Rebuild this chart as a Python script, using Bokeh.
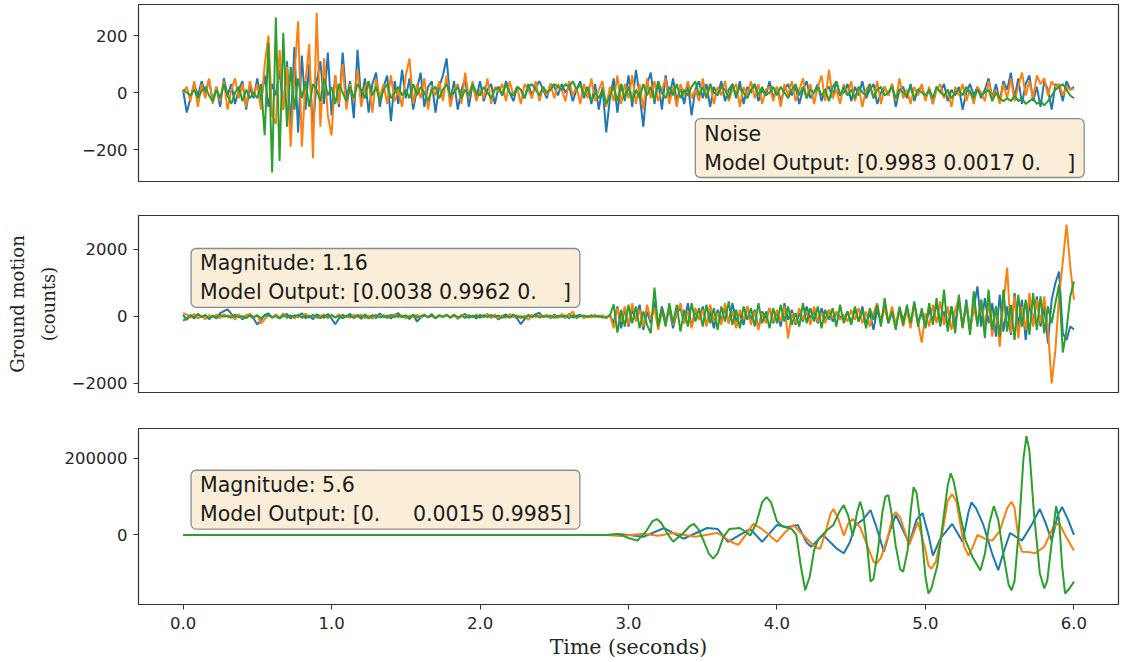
import numpy as np
from bokeh.plotting import figure
from bokeh.models import Label, FixedTicker, Range1d
from bokeh.layouts import column
from bokeh.embed import file_html
from bokeh.resources import INLINE

# ---------------- data ----------------
DT = 0.025  # sampling step (seconds) of the two upper panels

# Panel 1: noise sample (counts)
noise_blue = [
    10, -70, -20, 30, -10, 40, 0, 45, -30, 20, -50, 50, -10, 30, -40, 10, 40, -60, 20, -20,
    50, -30, 60, -50, 30, -10, 80, -60, 110, -120, 160, -140, 130, -60, 100, -130, 40, 110, -40, 140,
    -80, 60, -50, 140, -20, 40, -90, 150, -30, 50, -70, 30, 70, -50, 20, 60, -100, 40, -40, 80,
    -20, 50, -60, 10, 70, -50, 20, 40, -70, 20, 60, 120, -30, 40, -60, 10, 50, -50, 30, -20,
    40, -30, 10, 30, -40, 20, -10, 40, 0, -30, 20, 10, -20, 30, -10, 20, 40, 10, -20, 30,
    20, -10, 30, 0, 20, -30, 10, 40, -20, 20, -40, 30, -60, 20, -140, -20, 50, -70, 30, -30,
    60, -50, 80, -10, -120, 30, 70, -40, 40, -60, 60, -20, 50, -30, 20, -40, 30, -80, 10, 40,
    -20, 30, -50, 20, -10, 40, -30, 10, 30, -20, 40, -40, 20, 0, 30, -30, 10, -10, 40, -20,
    20, -30, 10, 30, -10, 20, -40, 10, 40, -20, 0, 30, -30, 10, 20, -20, 40, -10, 0, 30,
    -30, 20, -10, 40, -20, 10, 30, -40, 0, 20, -10, 30, -50, 10, 20, -20, 30, -30, 10, 20,
    -20, 10, -40, 20, 0, 30, -30, 10, -10, 20, -60, 0, 30, -10, 20, -20, 10, 50, -20, 30,
    -30, 40, 10, 70, -20, 50, -40, 30, 60, -30, 20, -50, 40, 10, -60, 30, 20, -30, 40, 10,
    20]
noise_orange = [
    0, 20, -30, 40, -50, 30, -20, 50, -40, 20, -30, 40, -60, 10, 50, -20, 30, -50, 40, -10,
    30, -60, 100, 200, -80, -110, 150, -60, 90, -190, 60, 250, -190, 40, 170, -230, 280, -120, 120, -80,
    -150, 60, -40, 100, -60, 30, -30, 80, -50, 20, 40, -70, 50, -20, 30, -40, 60, -30, 10, -50,
    60, 120, -40, 30, -20, 50, -60, 20, -10, 40, -30, 60, -50, 10, 30, -40, 70, -20, 40, -30,
    10, -20, 50, -40, 20, 0, 30, -30, 40, -10, 20, -40, 30, 10, -20, 40, -30, 20, -10, 30,
    -20, 30, 10, -30, 40, -10, 20, -40, 30, -20, 50, -30, 10, 40, -50, 20, -30, 60, -40, 30,
    -20, 60, -40, 30, -60, 50, -20, 40, -30, 10, 50, -40, 20, -50, 30, -10, 40, -20, 10, -30,
    50, -20, 30, -40, 20, -10, 40, -30, 10, 30, -50, 20, -10, 40, -20, 30, -40, 10, 20, -30,
    20, -50, 30, -10, 40, -30, 10, 50, -20, 30, -40, 20, 60, -30, 80, -20, 10, -40, 30, -10,
    40, -30, 20, -50, 10, 30, -20, 40, -40, 20, -10, 30, -30, 50, -20, 10, -40, 20, -10, 30,
    -30, 20, -40, 10, 30, -20, 10, -50, 20, -10, 30, -30, 10, -40, 20, 0, -30, 40, -20, 10,
    -40, 30, -20, 50, -30, 20, 70, -10, 40, -20, 60, 30, 50, -10, 40, 20, 30, -10, 20, 10,
    15]
noise_green = [
    10, 0, -10, 10, -20, 5, 20, -10, -30, 10, -20, 30, -10, -40, 0, 20, -30, 10, -20, 0,
    -20, 30, -150, 175, -280, 263, -240, 210, -120, 90, -60, 50, -20, 40, -50, 30, 10, -30, 50, -10,
    20, -40, 30, 0, -30, 20, -20, 30, 10, -20, 40, -10, 20, -30, 10, 30, -20, 0, 20, -10,
    10, -20, 30, -10, 20, 0, -30, 10, 20, -20, 10, 30, -10, 0, 20, -20, 10, -10, 30, 0,
    -10, 20, 0, -20, 10, 20, -10, 30, 0, -10, 20, 10, -20, 20, 30, 10, -10, 20, 0, 10,
    30, 20, 10, 30, 20, 40, 10, 30, -10, 20, -30, 0, -20, 10, -40, -10, 20, -30, 30, -20,
    20, -30, 10, -20, 30, -10, 20, -30, 40, 0, -20, 20, -10, 30, -20, 10, -10, 20, 40, -10,
    20, -20, 30, 0, -10, 20, 10, -20, 30, -10, 20, 0, -20, 10, 30, -10, 20, -10, 0, 20,
    -10, 20, 0, -20, 10, 30, -10, 20, -20, 10, 0, 20, -10, 10, -30, 20, 40, -10, 20, -10,
    10, -20, 20, 0, -10, 30, -20, 10, 20, -10, 0, 20, -20, 10, 0, -10, 20, -20, 10, 0,
    -10, 10, -20, 20, 0, -10, 10, -20, 0, 10, -10, 20, 0, -20, 10, -10, 0, 10, -30, 0,
    -20, -30, -20, -30, -10, -30, -20, -40, -30, -20, -40, -30, -45, -30, -10, 10, 20, 30, 10, -10,
    -20]

# Panel 2: magnitude 1.16 event (counts)
small_blue = [
    50, -100, 40, -60, 80, -20, 40, -80, 30, -60, 100, 160, 210, 80, -40, 60, -90, 40, 20, -60,
    -240, -100, 50, 90, -30, 60, -50, 20, 80, -60, 40, -20, 100, -50, 30, -80, 60, 20, -40, 80,
    -60, -230, -60, 50, -20, 80, -40, 30, -70, 60, -10, 40, -50, 90, -20, 30, -60, 50, 100, -30,
    40, -80, 60, -150, -40, 30, -20, 70, -50, 40, -10, 60, -30, 50, -70, 20, 80, -40, 30, -60,
    50, -20, 70, -40, 30, -90, 20, 60, -30, 40, -60, -230, -80, 50, -20, 70, 110, -30, 40, -50,
    60, -20, 30, -40, 80, -30, 20, 50, -40, 10, -20, 30, -10, 20, -30, 40, -200, 300, -350, 250,
    -300, 200, -100, 350, -400, 150, -200, 450, -250, 300, -150, 200, -350, 100, 250, -200, 400, -300, 150, -100,
    300, -250, 150, -350, 200, -100, 250, -200, 400, -150, 100, -250, 300, -100, 200, -350, 150, -50, 250, -200,
    150, -300, 400, -100, 200, -250, 100, -150, 300, -50, 150, -200, 250, -100, 200, -150, 100, 0, -100, 150,
    -200, 250, -150, 300, -250, 100, -400, 200, -150, 350, -200, 150, -300, 250, -100, 200, -250, 350, -150, 100,
    -300, 200, -150, 400, -250, 150, -350, 300, -200, 450, -300, 500, -400, 250, 900, -300, 550, -200, 400, -600,
    650, -450, 300, -550, 700, -300, 500, -700, 400, -250, 600, -300, 300, -800, 500, 1000, 1340, -500, -700, -300,
    -390]
small_orange = [
    100, 60, -40, 80, -60, 30, -80, 40, -30, 60, -50, 70, -20, 40, -90, 60, -40, 30, 80, -30,
    50, -210, -80, 40, -30, 60, -40, 90, -50, 30, -60, 40, -20, 80, -30, 50, -40, 20, 60, -50,
    40, -30, 70, -60, 20, -40, 50, -20, 60, -50, 30, -70, 40, -10, 50, -40, 20, 60, -30, 40,
    -60, 30, -20, 50, -40, 70, -30, 20, -50, 40, -10, 60, -40, 30, -60, 50, -20, 40, -30, 60,
    -40, 20, 50, -30, 60, -50, 10, -40, 70, -20, 40, -60, 30, -100, 50, -20, 40, -30, 60, -40,
    30, -50, 80, -20, 40, 150, -60, 30, -40, 20, -30, 50, -20, 40, -60, 60, -350, 250, -150, 300,
    -250, 400, -150, 200, -300, 350, -100, 250, -400, 150, -200, 300, -250, 100, 400, -200, 150, -350, 250, -100,
    200, -300, 350, -150, 100, -250, 400, -200, 150, -350, 200, -100, 300, -250, 150, -400, 100, -200, 250, -150,
    200, -150, 300, -650, 100, -200, 250, -100, 150, -250, 300, -150, 100, -200, 200, -50, 150, -100, 50, -150,
    200, -100, 250, -200, 150, -300, 100, 400, -200, 250, -150, 300, -250, 150, -300, 200, -350, 400, -200, -780,
    100, -300, 350, -200, 450, -250, 300, -400, 200, 550, -350, 400, -450, 300, -200, 500, -300, 400, -600, 300,
    -900, 400, 1460, -500, 600, -650, 300, -400, 700, -300, 500, -200, 600, -400, -2000, -1000, 600, 1640, 2745, 1500,
    500]
small_green = [
    -120, -60, 40, -30, 60, -20, 40, -50, 20, -30, 50, -10, 30, -40, 60, -20, 10, -50, 40, -20,
    30, -40, 20, 50, -30, 10, -60, 40, -20, 30, -10, 60, -40, 20, -30, 40, 0, -50, 30, -10,
    40, -30, 20, -50, 30, 10, -40, 50, -20, 30, -60, 20, 40, -30, 10, -40, 50, -20, 30, -10,
    20, -40, 50, -30, 10, 40, -20, 30, -50, 20, -10, 40, -30, 50, -20, 10, -40, 30, -10, 20,
    -30, 40, -20, 50, -10, 30, -40, 20, -30, 60, -20, 10, -50, 30, -10, 40, -30, 20, -10, 30,
    -40, 20, -10, 30, -50, 40, -20, 10, 30, -20, 40, -10, 20, -30, -20, 30, 360, -480, 200, -300,
    350, -200, 300, -350, 150, -250, -500, 865, -300, 250, -300, 400, -200, 350, -450, 200, -300, 400, -150, 250,
    -300, 350, -200, 250, -400, 300, -150, 450, -250, 200, -350, 300, -100, 250, -300, 400, -200, 150, -350, 250,
    -200, 350, -150, 300, -250, 100, -300, 400, -200, 250, -150, 300, -350, 200, -100, 250, -300, 350, -200, 150,
    -250, 300, -150, 200, -350, 250, -100, 350, -300, 550, -200, 150, -400, 300, -250, 350, -200, 450, -300, 250,
    -350, 400, -250, 550, -300, 800, -450, 300, -500, 650, -350, 400, -550, 750, -300, 500, -650, 800, -400, 300,
    -600, 800, -450, 350, -700, 650, -300, 500, -550, 700, -400, 600, -500, 300, -200, 400, 955, -1075, -400, 600,
    1045]

# Panel 3: magnitude 5.6 event, (time s, counts)
big_blue = [
    (0.0, 0), (2.85, 0), (2.95, 2000), (3.1, -5000), (3.24, 18000), (3.37, -10000), (3.53, 18000),
    (3.60, 15600), (3.67, -18000), (3.75, 0), (3.82, 15000), (3.90, -18000), (4.0, 26000),
    (4.07, 20000), (4.14, 26000), (4.20, -20000), (4.23, -31000), (4.31, 0), (4.40, -35000),
    (4.45, -48000), (4.49, -20000), (4.53, 26000), (4.58, 40000), (4.63, 65000), (4.67, 20000),
    (4.72, -44000), (4.76, 10000), (4.80, 52000), (4.84, 20000), (4.89, -23000), (4.94, 40000),
    (4.98, 57000), (5.02, 0), (5.05, -54000), (5.10, -10000), (5.18, 28500), (5.25, -18000),
    (5.29, 60000), (5.31, 85000), (5.34, 70000), (5.39, 26000), (5.45, -50000), (5.49, -92000),
    (5.53, -40000), (5.57, 5000), (5.65, -15000), (5.72, 30000), (5.77, 67500), (5.81, 30000),
    (5.85, -15000), (5.89, 50000), (5.92, 73000), (5.96, 40000), (6.0, 0)]
big_orange = [
    (0.0, 0), (2.85, 0), (2.95, -3000), (3.1, 3000), (3.2, -2000), (3.3, 5000), (3.45, -5000),
    (3.6, 5000), (3.70, -20000), (3.74, -26000), (3.79, 0), (3.84, 28500), (3.90, 15000),
    (4.0, -18000), (4.05, 5000), (4.11, 26000), (4.20, -10000), (4.26, -33000), (4.29, -36400),
    (4.33, 10000), (4.36, 55000), (4.38, 67500), (4.41, 45000), (4.45, -1700), (4.48, 30000),
    (4.51, 41500), (4.56, 20000), (4.62, -40000), (4.65, -70000), (4.67, -75000), (4.70, -60000),
    (4.75, 0), (4.78, 50000), (4.80, 59700), (4.83, 45000), (4.89, -26000), (4.95, 33800),
    (5.00, -40000), (5.02, -80000), (5.04, -88300), (5.07, -70000), (5.12, 20000), (5.15, 90000),
    (5.18, 106500), (5.21, 85000), (5.26, -30000), (5.29, -53700), (5.32, -30000), (5.35, 0),
    (5.40, -10000), (5.45, -15000), (5.50, 10000), (5.55, 70000), (5.58, 86600), (5.60, 70000),
    (5.63, -20000), (5.65, -44000), (5.70, -45000), (5.74, -48000), (5.80, -31000), (5.86, 20000),
    (5.90, 31000), (5.94, 0), (6.0, -41000)]
big_green = [
    (0.0, 0), (2.85, 0), (2.93, 2600), (3.00, -8000), (3.06, -15000), (3.12, 10000), (3.16, 35000),
    (3.19, 41500), (3.22, 32000), (3.26, 5000), (3.30, -18000), (3.34, -5000), (3.37, 5000),
    (3.41, 22000), (3.44, 28500), (3.47, 15000), (3.50, -10000), (3.54, -48000), (3.57, -62000),
    (3.60, -48000), (3.64, -5000), (3.68, 15600), (3.75, 18000), (3.80, 5000), (3.82, -1700),
    (3.86, 30000), (3.90, 85000), (3.93, 98700), (3.96, 85000), (4.00, 35000), (4.04, 22000),
    (4.10, 15000), (4.13, 0), (4.16, -80000), (4.19, -144600), (4.22, -110000), (4.25, -40000),
    (4.28, -10400), (4.33, 10000), (4.38, 26000), (4.42, 60000), (4.45, 78000), (4.48, 50000),
    (4.51, -3000), (4.54, 60000), (4.56, 86600), (4.58, 60000), (4.61, -40000), (4.63, -122000),
    (4.65, -115000), (4.68, -40000), (4.71, 60000), (4.73, 100000), (4.75, 104000), (4.77, 60000),
    (4.80, -30000), (4.83, -90000), (4.85, -96000), (4.88, -40000), (4.90, 60000), (4.92, 124600),
    (4.94, 110000), (4.97, 20000), (5.00, -110000), (5.02, -153000), (5.04, -140000),
    (5.08, -80000), (5.12, 40000), (5.15, 130000), (5.17, 161000), (5.19, 140000), (5.23, 60000),
    (5.27, -15000), (5.32, -60000), (5.37, -92700), (5.40, -50000), (5.43, 30000), (5.46, 75000),
    (5.49, 40000), (5.52, -40000), (5.56, -130000), (5.58, -144600), (5.60, -120000),
    (5.63, 20000), (5.66, 200000), (5.68, 258000), (5.70, 220000), (5.73, 60000), (5.77, -100000),
    (5.80, -140000), (5.82, -120000), (5.85, -20000), (5.88, 75000), (5.90, 40000),
    (5.92, -80000), (5.94, -153000), (5.97, -140000), (6.0, -122000)]

NB = "\u00a0"
box_texts = [
    "Noise\nModel Output: [0.9983 0.0017 0." + NB * 4 + "]",
    "Magnitude: 1.16\nModel Output: [0.0038 0.9962 0." + NB * 4 + "]",
    "Magnitude: 5.6\nModel Output: [0." + NB * 5 + "0.0015 0.9985]",
]
y_label = "Ground motion\n(counts)"
x_label = "Time (seconds)"
x_ticks = [0, 1, 2, 3, 4, 5, 6]
COLORS = ["#1f77b4", "#ff7f0e", "#2ca02c"]

# ---------------- figures ----------------
x_range = Range1d(-0.3, 6.3)
TICK_FONT = "DejaVu Sans"
TEXT_COLOR = "#262626"
W = 1120


def make_fig(height, b_top, b_bottom, y_lim, y_ticks):
    p = figure(width=W, height=height, x_range=x_range, y_range=Range1d(*y_lim),
               output_backend="svg", toolbar_location=None,
               min_border_left=138, min_border_right=2,
               min_border_top=b_top, min_border_bottom=b_bottom)
    p.grid.visible = False
    p.outline_line_color = "#333333"
    p.outline_line_width = 1.2
    p.outline_line_alpha = 1.0
    ya = p.yaxis[0]
    ya.ticker = FixedTicker(ticks=y_ticks)
    ya.major_label_overrides = {t: (("\u2212" + str(-t)) if t < 0 else str(t)) for t in y_ticks}
    ya.major_label_text_font = TICK_FONT
    ya.major_label_text_font_size = "16.5px"
    ya.major_label_text_color = TEXT_COLOR
    ya.axis_line_color = None
    ya.major_tick_line_color = "#333333"
    ya.major_tick_out = 5
    ya.major_tick_in = 0
    ya.minor_tick_line_color = None
    ya.major_label_standoff = 6
    return p


def add_box(p, x, y, anchor, text):
    p.add_layout(Label(x=x, y=y, x_units="data", y_units="data", anchor=anchor, text=text,
                       text_font="DejaVu Sans", text_font_size="20.5px", text_color="#1a1a1a",
                       background_fill_color="wheat", background_fill_alpha=0.5,
                       border_line_color="#8c8c8c", border_line_width=1.3,
                       padding=(9, 3), border_radius=5))


p1 = make_fig(198, 4, 17, (-312, 309), [-200, 0, 200])
p1.xaxis.visible = False
for vals, c in zip([noise_blue, noise_orange, noise_green], COLORS):
    p1.line(np.arange(len(vals)) * DT, vals, line_color=c, line_width=2)
add_box(p1, 3.45, -298, "bottom_left", box_texts[0])

p2 = make_fig(212, 17, 18, (-2269, 3015), [-2000, 0, 2000])
p2.xaxis.visible = False
for vals, c in zip([small_blue, small_orange, small_green], COLORS):
    p2.line(np.arange(len(vals)) * DT, vals, line_color=c, line_width=2)
add_box(p2, 0.054, 2030, "top_left", box_texts[1])
ya2 = p2.yaxis[0]
ya2.axis_label = y_label
ya2.axis_label_text_font = "DejaVu Serif"
ya2.axis_label_text_font_size = "18px"
ya2.axis_label_text_font_style = "normal"
ya2.axis_label_text_line_height = 1.45
ya2.axis_label_text_color = TEXT_COLOR
ya2.axis_label_standoff = 10

p3 = make_fig(251, 18, 57, (-181800, 277900), [0, 200000])
for pts, c in zip([big_blue, big_orange, big_green], COLORS):
    p3.line([q[0] for q in pts], [q[1] for q in pts], line_color=c, line_width=2)
add_box(p3, 0.054, 168800, "top_left", box_texts[2])
xa = p3.xaxis[0]
xa.ticker = FixedTicker(ticks=x_ticks)
xa.major_label_overrides = {t: f"{t:.1f}" for t in x_ticks}
xa.major_label_text_font = TICK_FONT
xa.major_label_text_font_size = "16.5px"
xa.major_label_text_color = TEXT_COLOR
xa.axis_line_color = None
xa.major_tick_line_color = "#333333"
xa.major_tick_out = 5
xa.major_tick_in = 0
xa.minor_tick_line_color = None
xa.major_label_standoff = 7
xa.axis_label = x_label
xa.axis_label_text_font = "DejaVu Serif"
xa.axis_label_text_font_size = "20.5px"
xa.axis_label_text_font_style = "normal"
xa.axis_label_text_color = TEXT_COLOR
xa.axis_label_standoff = 3

layout = column(p1, p2, p3)
open("out.html", "w").write(file_html(layout, INLINE))
